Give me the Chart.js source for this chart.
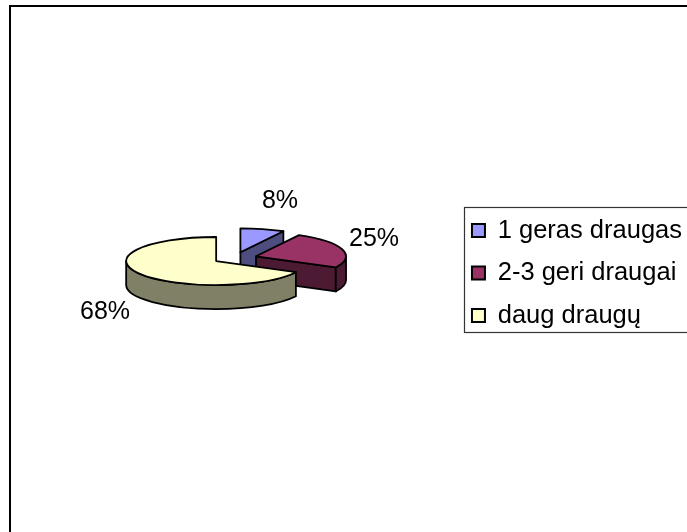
<!DOCTYPE html>
<html>
<head>
<meta charset="utf-8">
<style>
  html, body { margin: 0; padding: 0; background: #fff; overflow: hidden; }
  canvas { display: block; }
</style>
<script src="https://cdn.jsdelivr.net/npm/chart.js@4"></script>
</head>
<body>
<canvas id="chart" width="687" height="532"></canvas>
<script>
const categories = ['1 geras draugas', '2-3 geri draugai', 'daug draugų'];
const percents = [8, 25, 68];
const topColors = ['#9999ff', '#993366', '#ffffcc'];
const wallColors = ['#4d4d80', '#4d1a33', '#808066'];

// pseudo 3D settings
const SQUASH = 0.267;
const DEPTH = 24;
const EXPLODE = 22;
const PIE_Y = 258;
const FONT = '"Liberation Sans", Arial, sans-serif';
const labelSpots = [[280, 201], [374, 239], [105, 312]];

function squashY(chart, y) {
    const mid = (chart.chartArea.top + chart.chartArea.bottom) / 2;
    return PIE_Y + (y - mid) * SQUASH;
}

// arc outline on the squashed plane
function tracePie(ctx, chart, arc, dy) {
    const cy = squashY(chart, arc.y) + dy;
    const r = arc.outerRadius;
    ctx.beginPath();
    ctx.moveTo(arc.x, cy);
    ctx.ellipse(arc.x, cy, r, r * SQUASH, 0, arc.startAngle, arc.endAngle);
    ctx.closePath();
}

function drawWalls(ctx, chart, arc, color) {
    const cy = squashY(chart, arc.y);
    const r = arc.outerRadius;
    const rY = r * SQUASH;
    ctx.fillStyle = color;
    ctx.strokeStyle = '#000';
    ctx.lineWidth = 1.8;
    ctx.lineJoin = 'round';

    // radial wall, only when it faces the viewer
    const wall = function(a) {
        ctx.beginPath();
        ctx.moveTo(arc.x, cy);
        ctx.lineTo(arc.x + r * Math.cos(a), cy + rY * Math.sin(a));
        ctx.lineTo(arc.x + r * Math.cos(a), cy + rY * Math.sin(a) + DEPTH);
        ctx.lineTo(arc.x, cy + DEPTH);
        ctx.closePath();
        ctx.fill();
        ctx.stroke();
    };
    if (Math.cos(arc.startAngle) < -0.001) wall(arc.startAngle);
    if (Math.cos(arc.endAngle) > 0.001) wall(arc.endAngle);

    // rim, front half only
    const from = Math.max(arc.startAngle, 0);
    const to = Math.min(arc.endAngle, Math.PI);
    const rim = function(s, e) {
        if (e <= s) return;
        ctx.beginPath();
        ctx.ellipse(arc.x, cy, r, rY, 0, s, e);
        ctx.ellipse(arc.x, cy + DEPTH, r, rY, 0, e, s, true);
        ctx.closePath();
        ctx.fill();
        ctx.stroke();
    };
    rim(from, to);
    rim(Math.max(arc.startAngle, 2 * Math.PI), Math.min(arc.endAngle, 3 * Math.PI));
}

const piePlugin = {
    id: 'pie3d',
    afterDatasetsUpdate(chart) {
        chart.getDatasetMeta(0).data.forEach(function(arc) {
            const a = (arc.startAngle + arc.endAngle) / 2;
            arc.x += Math.cos(a) * EXPLODE;
            arc.y += Math.sin(a) * EXPLODE;
        });
    },
    beforeDraw(chart) {
        const ctx = chart.ctx;
        // outer frame, runs off the right and bottom edge
        ctx.save();
        ctx.fillStyle = '#fff';
        ctx.fillRect(0, 0, chart.width, chart.height);
        ctx.strokeStyle = '#000';
        ctx.lineWidth = 2;
        ctx.strokeRect(10, 6, 700, 560);
        // legend box
        ctx.strokeStyle = '#333';
        ctx.lineWidth = 1.2;
        ctx.strokeRect(464.5, 207.5, 240, 125);
        ctx.restore();
    },
    beforeDatasetsDraw(chart) {
        const ctx = chart.ctx;
        const arcs = chart.getDatasetMeta(0).data;
        ctx.save();
        arcs.forEach(function(arc, i) {
            drawWalls(ctx, chart, arc, wallColors[i]);
        });
        ctx.restore();
        // library draws the tops, flattened
        const mid = (chart.chartArea.top + chart.chartArea.bottom) / 2;
        ctx.save();
        ctx.translate(0, PIE_Y);
        ctx.scale(1, SQUASH);
        ctx.translate(0, -mid);
    },
    afterDatasetsDraw(chart) {
        const ctx = chart.ctx;
        ctx.restore();
        ctx.save();
        ctx.strokeStyle = '#000';
        ctx.lineWidth = 1.8;
        ctx.lineJoin = 'round';
        chart.getDatasetMeta(0).data.forEach(function(arc) {
            tracePie(ctx, chart, arc, 0);
            ctx.stroke();
        });
        // percent labels
        ctx.fillStyle = '#000';
        ctx.font = '25px ' + FONT;
        ctx.textAlign = 'center';
        ctx.textBaseline = 'middle';
        percents.forEach(function(p, i) {
            ctx.fillText(p + '%', labelSpots[i][0], labelSpots[i][1]);
        });
        ctx.restore();
    }
};

new Chart(document.getElementById('chart'), {
    type: 'pie',
    plugins: [piePlugin],
    data: {
        labels: categories,
        datasets: [{
            data: percents,
            backgroundColor: topColors,
            borderWidth: 0,
            radius: 90
        }]
    },
    options: {
        responsive: false,
        animation: false,
        layout: { padding: { left: 15, top: 14, right: -5, bottom: 0 } },
        plugins: {
            tooltip: { enabled: false },
            legend: {
                position: 'right',
                labels: {
                    boxWidth: 13,
                    boxHeight: 13,
                    padding: 17,
                    color: '#000',
                    font: { family: FONT, size: 25.5, lineHeight: 1.16 },
                    generateLabels(chart) {
                        return categories.map(function(name, i) {
                            return {
                                text: name,
                                fillStyle: topColors[i],
                                strokeStyle: '#000',
                                lineWidth: 2,
                                index: i
                            };
                        });
                    }
                }
            }
        }
    }
});
</script>
</body>
</html>
